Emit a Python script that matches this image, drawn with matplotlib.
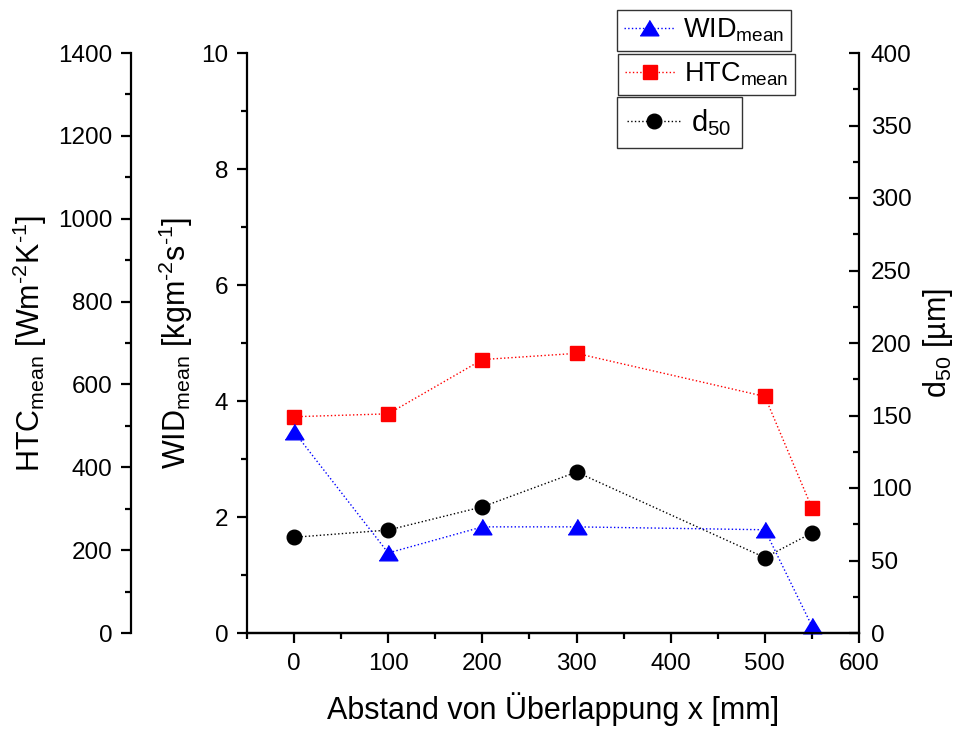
import matplotlib
matplotlib.use("Agg")
import matplotlib.pyplot as plt
from matplotlib.ticker import MultipleLocator

plt.rcParams['font.family'] = ['Liberation Sans', 'DejaVu Sans']
plt.rcParams['mathtext.fontset'] = 'custom'
plt.rcParams['mathtext.rm'] = 'Liberation Sans'
plt.rcParams['mathtext.it'] = 'Liberation Sans'
plt.rcParams['mathtext.default'] = 'regular'

x = [0, 100, 200, 300, 500, 550]
wid_mean = [3.47, 1.38, 1.83, 1.83, 1.78, 0.12]
htc_mean = [522, 529, 660, 675, 571, 302]
d50 = [66, 71, 87, 111, 52, 69]

W, H = 960, 729
fig = plt.figure(figsize=(W / 100, H / 100), dpi=100)
L, R, T, B = 247, 859, 53, 633
HTC_X = 131
ax = fig.add_axes([L / W, (H - B) / H, (R - L) / W, (B - T) / H])
ax_d = ax.twinx()
ax_h = ax.twinx()

tick_fs = 17.5
lab_fs = 22

# HTC axis on outer left
ax_h.yaxis.set_label_position('left')
ax_h.yaxis.set_ticks_position('left')
ax_h.spines['left'].set_position(('axes', (HTC_X - L) / (R - L)))
for s in ['right', 'top', 'bottom']:
    ax_h.spines[s].set_visible(False)
ax_h.patch.set_visible(False)

ax.spines['top'].set_visible(False)
ax.spines['right'].set_visible(False)
ax_d.spines['top'].set_visible(False)
ax_d.spines['left'].set_visible(False)

for a in (ax, ax_d, ax_h):
    for s in a.spines.values():
        s.set_linewidth(1.6)

tri = [(-1.0, -0.78), (1.0, -0.78), (0.0, 0.86)]

l2, = ax_h.plot(x, htc_mean, linestyle=':', color='red', lw=1.0, marker='s',
                markersize=10, markerfacecolor='red', markeredgecolor='red')
l3, = ax_d.plot(x, d50, linestyle=':', color='black', lw=1.0, marker='o',
                markersize=10.5, markerfacecolor='black', markeredgecolor='black')
l1, = ax.plot(x, wid_mean, linestyle=':', color='blue', lw=1.0, marker=tri,
              markersize=13.5, markerfacecolor='blue', markeredgecolor='blue',
              clip_on=False)
ax.set_zorder(3)
ax.patch.set_visible(False)
ax_d.set_zorder(2)
ax_h.set_zorder(1)

ax.set_xlim(-50, 600)
ax.set_ylim(0, 10)
ax_h.set_ylim(0, 1400)
ax_d.set_ylim(0, 400)

ax.xaxis.set_major_locator(MultipleLocator(100))
ax.xaxis.set_minor_locator(MultipleLocator(50))
ax.yaxis.set_major_locator(MultipleLocator(2))
ax.yaxis.set_minor_locator(MultipleLocator(1))
ax_h.yaxis.set_major_locator(MultipleLocator(200))
ax_h.yaxis.set_minor_locator(MultipleLocator(100))
ax_d.yaxis.set_major_locator(MultipleLocator(50))
ax_d.yaxis.set_minor_locator(MultipleLocator(25))

for a in (ax, ax_h):
    a.tick_params(axis='y', which='major', direction='out', length=7.5, width=1.6,
                  labelsize=tick_fs, pad=6)
    a.tick_params(axis='y', which='minor', direction='out', length=4, width=1.6)
ax.tick_params(axis='x', which='major', direction='out', length=7.5, width=1.6,
               labelsize=tick_fs, pad=7)
ax.tick_params(axis='x', which='minor', direction='out', length=4, width=1.6)
ax_d.tick_params(axis='y', which='major', direction='in', length=7.5, width=1.6,
                 labelsize=tick_fs, pad=8.5)
ax_d.tick_params(axis='y', which='minor', direction='in', length=4, width=1.6)

ax.set_xlabel('Abstand von Überlappung x [mm]', fontsize=lab_fs, labelpad=12)
cy = 1 - (T + B) / 2 / H
fig.text(30 / W, cy, r'HTC$_{mean}$ [Wm$^{\text{-2}}$K$^{\text{-1}}$]', fontsize=lab_fs,
         rotation=90, ha='center', va='center')
fig.text(176 / W, cy, r'WID$_{mean}$ [kgm$^{\text{-2}}$s$^{\text{-1}}$]', fontsize=lab_fs,
         rotation=90, ha='center', va='center')
fig.text(938 / W, cy, 'd$_{50}$ [µm]', fontsize=lab_fs,
         rotation=90, ha='center', va='center')

legend_labels = ['WID$_{mean}$', 'HTC$_{mean}$', 'd$_{50}$']
legend_specs = [(l1, (617, 10), 19.5, 0.25),
                (l2, (618, 54), 19.5, 0.25),
                (l3, (617, 97), 21, 0.35)]
for lab, (line, pos, fs, bp) in zip(legend_labels, legend_specs):
    lg = fig.legend([line], [lab], bbox_to_anchor=(pos[0] / W, 1 - pos[1] / H),
                    bbox_transform=fig.transFigure, loc='upper left', frameon=True,
                    fancybox=False, fontsize=fs, handlelength=1.85, handletextpad=0.35,
                    borderpad=bp, borderaxespad=0, framealpha=1)
    lg.get_frame().set_edgecolor('#333333')
    lg.get_frame().set_linewidth(1.0)
    lg.get_frame().set_boxstyle('square', pad=0)
    lg.set_zorder(10)

fig.savefig('out.png', dpi=100)
